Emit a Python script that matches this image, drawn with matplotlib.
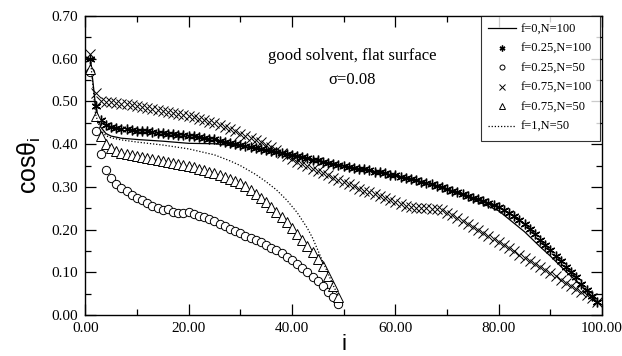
import numpy as np
import matplotlib
matplotlib.use("Agg")
import matplotlib.pyplot as plt
from matplotlib.ticker import MultipleLocator, FormatStrFormatter

# ---- data (monomer index i, cos theta_i)
i_100 = list(range(1, 100))
i_50 = list(range(1, 50))

# f=0.25, N=100 (asterisks)
f025_n100 = [0.600, 0.490, 0.457, 0.445, 0.440, 0.437, 0.436, 0.435, 0.434, 0.432,
             0.431, 0.430, 0.428, 0.427, 0.426, 0.425, 0.424, 0.422, 0.421, 0.420,
             0.418, 0.417, 0.415, 0.413, 0.411, 0.408, 0.405, 0.402, 0.400, 0.398,
             0.396, 0.394, 0.391, 0.388, 0.386, 0.384, 0.381, 0.379, 0.377, 0.374,
             0.372, 0.370, 0.367, 0.364, 0.362, 0.359, 0.356, 0.353, 0.351, 0.349,
             0.347, 0.345, 0.343, 0.341, 0.339, 0.336, 0.334, 0.332, 0.329, 0.327,
             0.324, 0.321, 0.318, 0.315, 0.312, 0.309, 0.306, 0.302, 0.299, 0.295,
             0.291, 0.287, 0.283, 0.279, 0.275, 0.271, 0.266, 0.262, 0.257, 0.252,
             0.246, 0.239, 0.231, 0.222, 0.212, 0.201, 0.189, 0.176, 0.164, 0.152,
             0.139, 0.126, 0.113, 0.101, 0.088, 0.073, 0.059, 0.045, 0.031]

# f=0.75, N=100 (crosses)
f075_n100 = [0.610, 0.520, 0.500, 0.499, 0.498, 0.497, 0.495, 0.493, 0.491, 0.489,
             0.487, 0.485, 0.483, 0.480, 0.478, 0.476, 0.473, 0.471, 0.468, 0.466,
             0.463, 0.460, 0.457, 0.453, 0.449, 0.445, 0.440, 0.435, 0.430, 0.425,
             0.420, 0.415, 0.410, 0.405, 0.399, 0.393, 0.386, 0.380, 0.373, 0.366,
             0.359, 0.353, 0.348, 0.343, 0.337, 0.332, 0.327, 0.321, 0.316, 0.311,
             0.306, 0.301, 0.296, 0.291, 0.287, 0.283, 0.278, 0.274, 0.270, 0.265,
             0.260, 0.256, 0.252, 0.250, 0.250, 0.250, 0.249, 0.248, 0.245, 0.240,
             0.234, 0.228, 0.221, 0.214, 0.207, 0.200, 0.193, 0.186, 0.178, 0.171,
             0.164, 0.156, 0.149, 0.141, 0.134, 0.127, 0.120, 0.113, 0.106, 0.098,
             0.091, 0.083, 0.076, 0.068, 0.062, 0.054, 0.047, 0.039, 0.031]

# f=0.25, N=50 (circles)
f025_n50 = [0.570, 0.432, 0.378, 0.340, 0.320, 0.306, 0.297, 0.290, 0.281, 0.275,
            0.269, 0.263, 0.256, 0.251, 0.246, 0.249, 0.242, 0.240, 0.240, 0.241,
            0.237, 0.233, 0.229, 0.225, 0.220, 0.214, 0.208, 0.202, 0.196, 0.191,
            0.186, 0.181, 0.176, 0.170, 0.164, 0.158, 0.152, 0.145, 0.137, 0.128,
            0.119, 0.110, 0.100, 0.090, 0.079, 0.067, 0.055, 0.043, 0.026]

# f=0.75, N=50 (triangles)
f075_n50 = [0.575, 0.465, 0.420, 0.400, 0.390, 0.383, 0.380, 0.378, 0.375, 0.373,
            0.370, 0.368, 0.365, 0.363, 0.361, 0.358, 0.356, 0.354, 0.351, 0.349,
            0.346, 0.343, 0.339, 0.335, 0.332, 0.328, 0.324, 0.319, 0.314, 0.308,
            0.301, 0.293, 0.284, 0.274, 0.264, 0.253, 0.242, 0.230, 0.217, 0.204,
            0.190, 0.176, 0.162, 0.147, 0.132, 0.114, 0.092, 0.068, 0.043]

# f=0, N=100 (solid line)
f0_i = [1, 2, 3, 4, 5, 7, 10, 15, 20, 25, 30, 35, 40, 45, 50, 55, 60, 65, 70, 75,
        80, 85, 88, 90, 93, 95, 97, 99]
f0_n100 = [0.600, 0.490, 0.440, 0.425, 0.419, 0.414, 0.411, 0.407, 0.402, 0.401,
           0.395, 0.386, 0.374, 0.362, 0.349, 0.338, 0.326, 0.311, 0.293, 0.271,
           0.244, 0.195, 0.160, 0.138, 0.102, 0.080, 0.056, 0.031]

# f=1, N=50 (dotted line)
f1_i = [1, 2, 3, 4, 5, 7, 10, 15, 20, 25, 28, 30, 33, 35, 37, 39, 41, 43, 44, 45,
        46, 47, 48, 49]
f1_n50 = [0.600, 0.470, 0.432, 0.420, 0.415, 0.410, 0.405, 0.398, 0.389, 0.375,
          0.361, 0.350, 0.329, 0.312, 0.293, 0.269, 0.240, 0.203, 0.180, 0.152,
          0.124, 0.097, 0.069, 0.044]

serif = "Liberation Serif"
sans = "Liberation Sans"
plt.rcParams["mathtext.fontset"] = "custom"
plt.rcParams["mathtext.rm"] = sans
plt.rcParams["mathtext.it"] = sans
plt.rcParams["mathtext.sf"] = sans

fig = plt.figure(figsize=(6.22, 3.56), dpi=100)
ax = fig.add_axes([0.137, 0.115, 0.831, 0.840])

asterisk = (6, 2, 0)
ax.plot(f0_i, f0_n100, color="black", lw=0.9, label="f=0,N=100")
ax.plot(i_100, f025_n100, ls="none", marker=asterisk, ms=7, mec="black", mew=1.0,
        label="f=0.25,N=100")
ax.plot(i_50, f025_n50, ls="none", marker="o", ms=6, mfc="white", mec="black",
        mew=0.7, label="f=0.25,N=50")
ax.plot(i_100, f075_n100, ls="none", marker="x", ms=6.5, mec="black", mew=0.7,
        label="f=0.75,N=100")
ax.plot(i_50, f075_n50, ls="none", marker="^", ms=6.5, mfc="white", mec="black",
        mew=0.7, label="f=0.75,N=50")
ax.plot(f1_i, f1_n50, color="black", lw=0.9, ls=(0, (1, 1.5)), label="f=1,N=50")

ax.set_xlim(0, 100)
ax.set_ylim(0, 0.70)
ax.xaxis.set_major_locator(MultipleLocator(20))
ax.xaxis.set_minor_locator(MultipleLocator(10))
ax.yaxis.set_major_locator(MultipleLocator(0.1))
ax.yaxis.set_minor_locator(MultipleLocator(0.05))
ax.xaxis.set_major_formatter(FormatStrFormatter("%.2f"))
ax.yaxis.set_major_formatter(FormatStrFormatter("%.2f"))
ax.tick_params(which="both", direction="in", top=True, right=True, width=0.9)
ax.tick_params(which="major", length=8, labelsize=11, pad=5)
ax.tick_params(which="minor", length=4)
for lab in ax.get_xticklabels() + ax.get_yticklabels():
    lab.set_fontfamily(serif)
for sp in ax.spines.values():
    sp.set_linewidth(1.0)

ax.set_xlabel("i", fontsize=16, fontfamily=sans, labelpad=-1)
ax.set_ylabel(r"cos$\theta_{\mathrm{i}}$", fontsize=18, fontfamily=sans, labelpad=6)

ax.text(0.517, 0.865, "good solvent, flat surface", transform=ax.transAxes,
        ha="center", va="center", fontsize=12, fontfamily=serif)
ax.text(0.517, 0.785, "\u03c3=0.08", transform=ax.transAxes,
        ha="center", va="center", fontsize=12, fontfamily=serif)

leg = ax.legend(loc="upper right", bbox_to_anchor=(0.995, 1.0), borderaxespad=0,
                prop={"family": serif, "size": 9}, frameon=True, fancybox=False,
                edgecolor="black", labelspacing=0.6, handlelength=2.2,
                handletextpad=0.4, markerscale=0.6, borderpad=0.6)
leg.get_frame().set_linewidth(0.8)

fig.savefig("out.png", dpi=100)
